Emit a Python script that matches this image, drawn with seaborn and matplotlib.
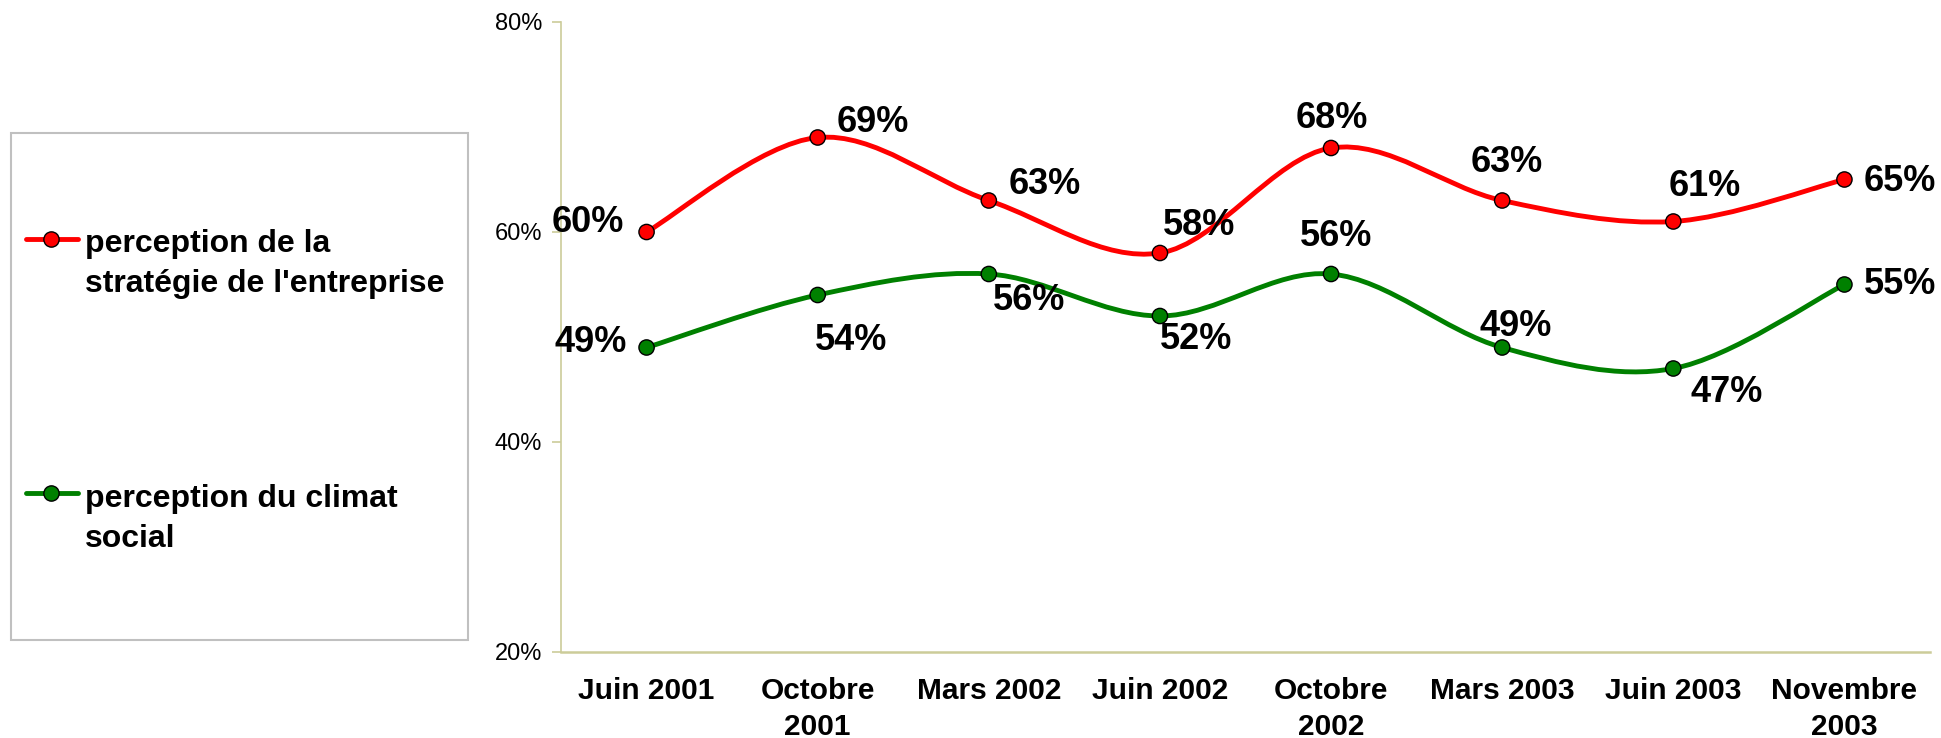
import matplotlib
matplotlib.use("Agg")
import matplotlib.pyplot as plt
from matplotlib.path import Path
from matplotlib.patches import PathPatch, Rectangle
from matplotlib.lines import Line2D
import numpy as np
import pandas as pd
import seaborn as sns

periods = ["Juin 2001", "Octobre\n2001", "Mars 2002", "Juin 2002",
           "Octobre\n2002", "Mars 2003", "Juin 2003", "Novembre\n2003"]
strategie = [60, 69, 63, 58, 68, 63, 61, 65]
climat = [49, 54, 56, 52, 56, 49, 47, 55]
serie_strategie = "perception de la\nstratégie de l'entreprise"
serie_climat = "perception du climat\nsocial"
y_ticks = [20, 40, 60, 80]

RED = "#ff0000"
GREEN = "#008000"
AXIS = "#cccc99"

# label placement: (dx px, dy px, ha, va)
lab_strategie = [(-23, 0, "right", "baseline"), (19, 5, "left", "baseline"),
                 (20, 6, "left", "baseline"), (3, 18, "left", "baseline"),
                 (1, 20, "center", "baseline"), (5, 29, "center", "baseline"),
                 (-5, 26, "left", "baseline"), (19, -2, "left", "center")]
lab_climat = [(-20, 5, "right", "center"), (-3, -28, "left", "top"),
              (4, -9, "left", "top"), (0, -6, "left", "top"),
              (5, 28, "center", "baseline"), (14, 11, "center", "baseline"),
              (17, -7, "left", "top"), (19, 0, "left", "center")]

sns.set_style("white")
plt.rcParams["font.family"] = ["Liberation Sans", "DejaVu Sans"]
plt.rcParams["text.color"] = "black"
plt.rcParams["xtick.labelcolor"] = "black"
plt.rcParams["ytick.labelcolor"] = "black"


def smooth_path(xs, ys):
    # excel-like smoothed line (catmull-rom as cubic bezier)
    pts = np.column_stack([xs, ys]).astype(float)
    n = len(pts)
    verts = [pts[0]]
    codes = [Path.MOVETO]
    for i in range(n - 1):
        p0 = pts[max(i - 1, 0)]
        p1 = pts[i]
        p2 = pts[i + 1]
        p3 = pts[min(i + 2, n - 1)]
        verts += [p1 + (p2 - p0) / 6, p2 - (p3 - p1) / 6, p2]
        codes += [Path.CURVE4] * 3
    return Path(verts, codes)


W, H = 1941, 738
fig = plt.figure(figsize=(W / 100, H / 100), dpi=100)
ax = fig.add_axes([561 / W, 1 - 652 / H, (1930 - 561) / W, (652 - 22) / H])

pos = list(range(len(periods)))
df = pd.DataFrame({
    "pos": pos * 2,
    "value": strategie + climat,
    "serie": [serie_strategie] * len(pos) + [serie_climat] * len(pos),
})

for vals, col in [(strategie, RED), (climat, GREEN)]:
    ax.add_patch(PathPatch(smooth_path(pos, vals), facecolor="none",
                           edgecolor=col, lw=3.5, zorder=2, capstyle="round"))

sns.scatterplot(data=df, x="pos", y="value", hue="serie",
                palette=[RED, GREEN], s=11 ** 2, edgecolor="black",
                linewidth=1.0, legend=False, zorder=3, ax=ax)

for vals, labs in [(strategie, lab_strategie), (climat, lab_climat)]:
    for x, v, (dx, dy, ha, va) in zip(pos, vals, labs):
        ax.annotate(f"{v}%", (x, v), xytext=(dx, dy), textcoords="offset pixels",
                    ha=ha, va=va, fontsize=26, fontweight="bold",
                    color="black", zorder=4)

ax.set_xlim(-0.5, len(periods) - 0.5)
ax.set_ylim(20, 80)
ax.set_xlabel("")
ax.set_ylabel("")
ax.set_yticks(y_ticks)
ax.set_yticklabels([f"{t}%" for t in y_ticks], fontsize=17)
ax.set_xticks(pos)
ax.set_xticklabels(periods, fontsize=21.5, fontweight="bold", linespacing=1.35)
ax.set_xticks(np.arange(-0.5, len(periods)), minor=True)
ax.tick_params(axis="x", which="major", length=0, pad=18, labelcolor="black")
ax.tick_params(axis="x", which="minor", length=7.2, width=1.2, color=AXIS,
               direction="out")
ax.tick_params(axis="y", length=6.5, width=1.2, color=AXIS, pad=7,
               direction="out", left=True, labelcolor="black")
for s in ["top", "right"]:
    ax.spines[s].set_visible(False)
ax.spines["left"].set_color(AXIS)
ax.spines["left"].set_linewidth(1.2)
ax.spines["bottom"].set_color(AXIS)
ax.spines["bottom"].set_linewidth(1.8)
ax.grid(False)

# legend drawn in pixel coordinates
lg = fig.add_axes([0, 0, 1, 1], zorder=-1)
lg.set_xlim(0, W)
lg.set_ylim(H, 0)
lg.axis("off")
lg.add_patch(Rectangle((11, 133), 457, 507, facecolor="none",
                       edgecolor="#c0c0c0", lw=1.5))
entries = [(serie_strategie, RED, 239, 252), (serie_climat, GREEN, 493, 507)]
for label, col, yl, yb in entries:
    lg.add_line(Line2D([26, 78], [yl, yl], color=col, lw=3.5))
    lg.plot([51], [yl], marker="o", ms=11, mfc=col, mec="black", mew=1.0)
    for k, line in enumerate(label.split("\n")):
        lg.text(85, yb + 40 * k, line, fontsize=23, fontweight="bold",
                va="baseline", ha="left", color="black")

fig.savefig("out.png", dpi=100)
